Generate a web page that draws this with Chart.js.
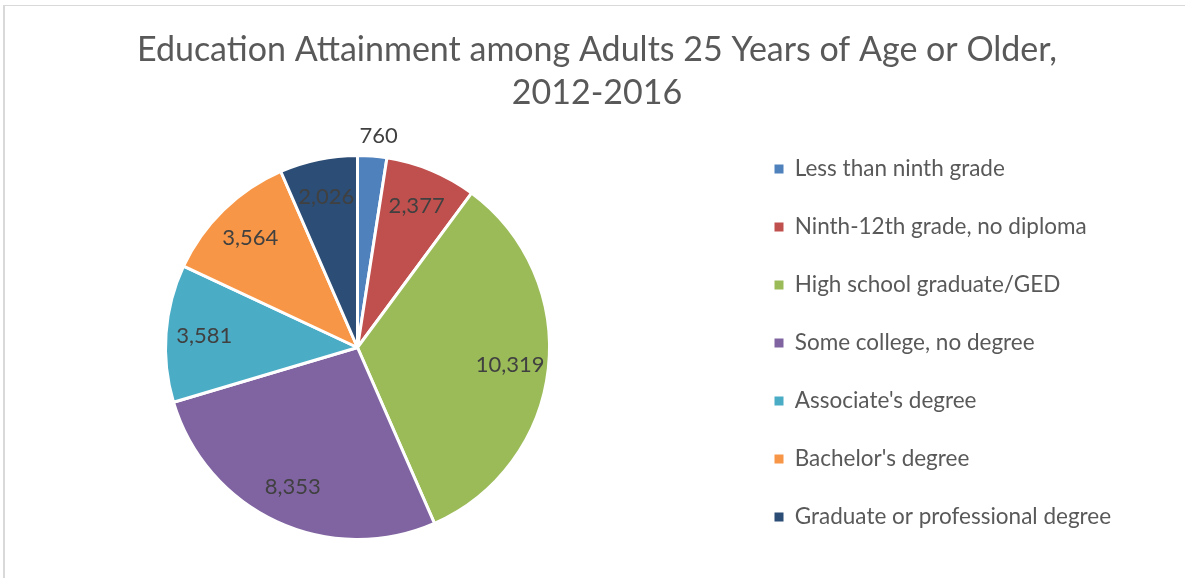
<!DOCTYPE html>
<html>
<head>
<meta charset="utf-8">
<title>Education Attainment</title>
<script src="https://cdn.jsdelivr.net/npm/chart.js@4.4.1/dist/chart.umd.min.js"></script>
<style>
  html, body { margin: 0; padding: 0; background: #fff; overflow: hidden; }
  #frame { position: absolute; left: 3px; top: 5px; width: 1400px; height: 800px;
           border-left: 2px solid #d9d9d9; border-top: 1px solid #d9d9d9; }
  #wrap { position: absolute; left: 0; top: 0; width: 1185px; height: 578px; }
</style>
</head>
<body>
<div id="frame"></div>
<div id="wrap"><canvas id="chart"></canvas></div>
<script>
  'use strict';

  /* ---- data ---- */
  var CATEGORIES = [
    'Less than ninth grade',
    'Ninth-12th grade, no diploma',
    'High school graduate/GED',
    'Some college, no degree',
    "Associate's degree",
    "Bachelor's degree",
    'Graduate or professional degree'
  ];
  var VALUES = [760, 2377, 10319, 8353, 3581, 3564, 2026];
  var COLORS = ['#4f81bd', '#c0504d', '#9bbb59', '#8064a2', '#4bacc6', '#f79646', '#2c4d75'];
  var TITLE_LINES = ['Education Attainment among Adults 25 Years of Age or Older,', '2012-2016'];

  /* ---- look ---- */
  var FONT = "Lato, 'Open Sans', sans-serif";
  var TITLE_CX = 597;        // centre of the title lines
  var LEGEND_LEFT = 739;     // legend block left edge (box = left + padding)
  var LEGEND_CY = 343;       // vertical centre of the legend column
  var LEGEND_FONT = 22.5;
  var LEGEND_PAD = 58 - LEGEND_FONT;

  var total = VALUES.reduce(function (a, b) { return a + b; }, 0);

  /* title + legend sit where Excel put them, not where the layout boxes land */
  var placeBlocks = {
    id: 'placeBlocks',
    afterLayout: function (chart) {
      var t = chart.titleBlock;
      t.left = TITLE_CX - 570; t.right = TITLE_CX + 570; t.width = 1140;

      var lg = chart.legend;
      var h = lg.bottom - lg.top;
      lg.left = LEGEND_LEFT; lg.right = chart.width; lg.width = lg.right - lg.left;
      lg.top = LEGEND_CY - h / 2; lg.bottom = lg.top + h;
    }
  };

  /* value labels: inside near the rim, tiny slices just outside */
  var sliceLabels = {
    id: 'sliceLabels',
    afterDatasetsDraw: function (chart) {
      var ctx = chart.ctx;
      var meta = chart.getDatasetMeta(0);
      ctx.save();
      ctx.font = '22px ' + FONT;
      ctx.fillStyle = '#404040';
      ctx.textAlign = 'center';
      ctx.textBaseline = 'middle';
      meta.data.forEach(function (arc, i) {
        var p = arc.getProps(['x', 'y', 'startAngle', 'endAngle', 'outerRadius'], true);
        var mid = (p.startAngle + p.endAngle) / 2;
        var txt = VALUES[i].toLocaleString('en-US');
        var cos = Math.cos(mid), sin = Math.sin(mid);
        var x, y;
        if (VALUES[i] / total < 0.04) {
          var w = ctx.measureText(txt).width;
          var r = p.outerRadius + 10;
          x = p.x + cos * r + cos * w / 2 + 4;
          y = p.y + sin * r + sin * 10;
        } else {
          x = p.x + cos * p.outerRadius * 0.8;
          y = p.y + sin * p.outerRadius * 0.8;
        }
        ctx.fillText(txt, x, y);
      });
      ctx.restore();
    }
  };

  new Chart(document.getElementById('chart'), {
    type: 'pie',
    data: {
      labels: CATEGORIES,
      datasets: [{
        data: VALUES,
        backgroundColor: COLORS,
        borderColor: '#ffffff',
        borderWidth: 3
      }]
    },
    options: {
      responsive: true,
      maintainAspectRatio: false,
      animation: false,
      layout: { padding: { left: 164, right: 434, top: 0, bottom: 37 } },
      plugins: {
        title: {
          display: true,
          text: TITLE_LINES,
          color: '#595959',
          font: { family: FONT, size: 34, weight: 'normal', lineHeight: '43px' },
          padding: { top: 29, bottom: 39 }
        },
        legend: {
          position: 'right',
          align: 'center',
          maxWidth: 200,
          labels: {
            boxWidth: 9,
            boxHeight: 9,
            padding: LEGEND_PAD,
            color: '#595959',
            font: { family: FONT, size: LEGEND_FONT },
            generateLabels: function () {
              return CATEGORIES.map(function (c, i) {
                return { text: c, fillStyle: COLORS[i], strokeStyle: COLORS[i], lineWidth: 0,
                         fontColor: '#595959', hidden: false, index: i };
              });
            }
          }
        },
        tooltip: { enabled: false }
      }
    },
    plugins: [placeBlocks, sliceLabels]
  });
</script>
</body>
</html>
